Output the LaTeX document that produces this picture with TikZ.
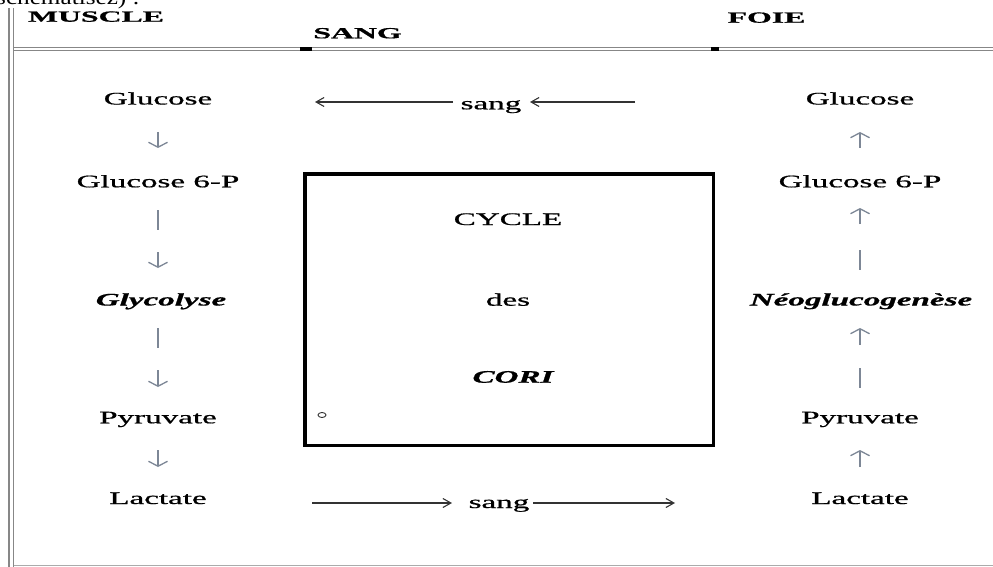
\documentclass[tikz,border=0pt]{standalone}
\usepackage{fontspec}
\setmainfont{Liberation Serif}[FakeBold=0.7]
\newfontfamily\plainserif{Liberation Serif}
\usetikzlibrary{arrows.meta,shapes.geometric}
\definecolor{arrgray}{RGB}{125,135,150}
\definecolor{rulegray}{RGB}{135,135,135}
\newcommand{\sx}[1]{\scalebox{1.88}[1]{#1}}
\newcommand{\hx}[1]{\scalebox{2.05}[1]{#1}}
\begin{document}
\begin{tikzpicture}[x=1pt,y=-1pt,
  lbl/.style={inner sep=0pt, anchor=base, font=\fontsize{17.6}{20}\selectfont},
  hdr/.style={inner sep=0pt, anchor=base, font=\fontsize{15.5}{18}\selectfont\bfseries},
  dn/.style={draw=arrgray, line width=1.3pt, -{Straight Barb[length=5pt,width=19pt]}},
  barseg/.style={draw=arrgray, line width=2.2pt},
  harr/.style={draw=black!80, line width=1.1pt, -{Straight Barb[length=8pt,width=9pt]}},
  ruleline/.style={draw=rulegray, line width=1.3pt},
  cyclebox/.style={draw=black, line width=3.5pt, inner sep=0pt}]
\useasboundingbox (0,0) rectangle (993,567);
\clip (0,0) rectangle (993,567);

% table rules
\draw[ruleline] (9,8) -- (9,567);
\draw[ruleline] (13.5,8) -- (13.5,567);
\draw[ruleline] (13.5,47.5) -- (993,47.5);
\draw[ruleline] (13.5,50.5) -- (993,50.5);
\draw[ruleline, draw=rulegray!70] (13.5,565.5) -- (993,565.5);
\fill[black] (300,47.5) rectangle (312,50.8);
\fill[black] (711,47.5) rectangle (719,50.8);

% cut-off text at top (as in the reference)
\node[anchor=base west, inner sep=0pt, font=\plainserif\fontsize{21}{24}\selectfont] (top) at (-4,4.5) {\scalebox{1.2}[1]{schématisez) :}};

% headers
\node[hdr] (muscle) at (96,21.7) {\hx{MUSCLE}};
\node[hdr] (sangh) at (357.5,38.3) {\hx{SANG}};
\node[hdr] (foie) at (766.5,22.7) {\hx{FOIE}};

% left column
\node[lbl] (lg) at (158,104.5) {\sx{Glucose}};
\node[lbl] (lg6) at (158,187.3) {\sx{Glucose 6-P}};
\node[lbl] (lgly) at (161,305.5) {\sx{\itshape\bfseries Glycolyse}};
\node[lbl] (lpyr) at (158,423.3) {\sx{Pyruvate}};
\node[lbl] (llac) at (158,504) {\sx{Lactate}};

\draw[dn] (158,132) -- (158,148);
\draw[barseg] (158,210) -- (158,230);
\draw[dn] (158,252) -- (158,268);
\draw[barseg] (158,328) -- (158,348);
\draw[dn] (158,370) -- (158,387);
\draw[dn] (158,450) -- (158,467);

% right column
\node[lbl] (rg) at (860,104.5) {\sx{Glucose}};
\node[lbl] (rg6) at (860,187.3) {\sx{Glucose 6-P}};
\node[lbl] (rneo) at (861,305.5) {\sx{\itshape\bfseries Néoglucogenèse}};
\node[lbl] (rpyr) at (860,423.3) {\sx{Pyruvate}};
\node[lbl] (rlac) at (860,504) {\sx{Lactate}};

\draw[dn] (860,148) -- (860,132);
\draw[dn] (860,224) -- (860,208);
\draw[barseg] (860,250) -- (860,270);
\draw[dn] (860,345) -- (860,328);
\draw[barseg] (860,368) -- (860,388);
\draw[dn] (860,467) -- (860,450);

% blood transfers
\node[lbl] (sangtop) at (491,109.3) {\sx{sang}};
\node[lbl] (sangbot) at (499,508) {\sx{sang}};
\coordinate (t1) at (453,102);
\coordinate (t2) at (315,102);
\coordinate (t3) at (635,102);
\coordinate (t4) at (530,102);
\coordinate (b1) at (312,503);
\coordinate (b2) at (452,503);
\coordinate (b3) at (533,503);
\coordinate (b4) at (675,503);
\draw[harr] (t1) -- (t2);
\draw[harr] (t3) -- (t4);
\draw[harr] (b1) -- (b2);
\draw[harr] (b3) -- (b4);

% central box
\node[cyclebox, minimum width=408.5pt, minimum height=271.5pt] (cycle) at (509,309.5) {};
\node[lbl] (cyc) at (508,225) {\sx{CYCLE}};
\node[lbl] (des) at (508,305.7) {\sx{des}};
\node[lbl] (cori) at (513,382.7) {\sx{\itshape\bfseries CORI}};
\node[ellipse, draw=black!80, line width=0.9pt, minimum width=8pt, minimum height=5pt, inner sep=0pt] (dot) at (322,415) {};
\end{tikzpicture}
\end{document}
